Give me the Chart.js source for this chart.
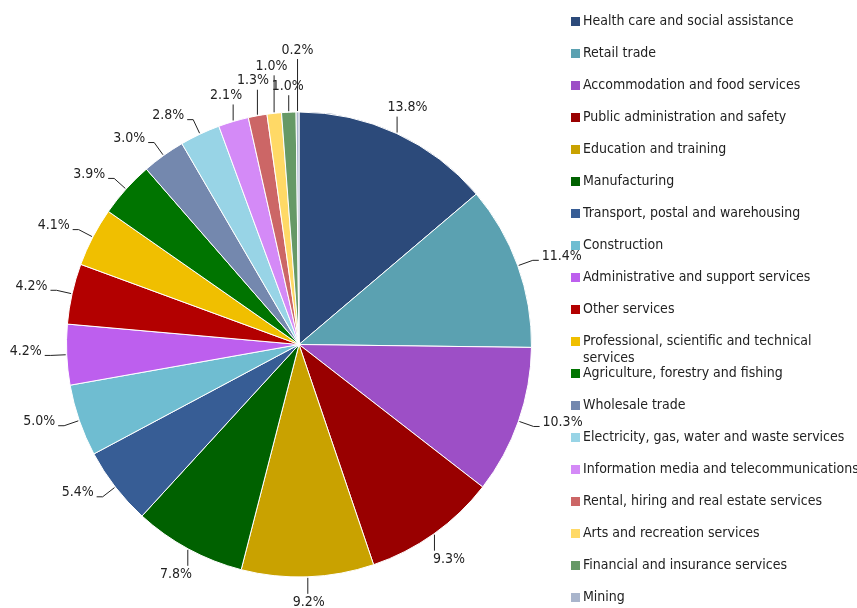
<!DOCTYPE html>
<html>
<head>
<meta charset="utf-8">
<script src="https://cdn.jsdelivr.net/npm/chart.js@4.4.1/dist/chart.umd.min.js"></script>
<style>
  html, body { margin: 0; padding: 0; background: #fff; }
  #chart { display: block; }
</style>
</head>
<body>
<canvas id="chart" width="857" height="608"></canvas>
<script>
const industries = [
  "Health care and social assistance",
  "Retail trade",
  "Accommodation and food services",
  "Public administration and safety",
  "Education and training",
  "Manufacturing",
  "Transport, postal and warehousing",
  "Construction",
  "Administrative and support services",
  "Other services",
  "Professional, scientific and technical services",
  "Agriculture, forestry and fishing",
  "Wholesale trade",
  "Electricity, gas, water and waste services",
  "Information media and telecommunications",
  "Rental, hiring and real estate services",
  "Arts and recreation services",
  "Financial and insurance services",
  "Mining"
];
const shares = [13.8, 11.4, 10.3, 9.3, 9.2, 7.8, 5.4, 5.0, 4.2, 4.2, 4.1, 3.9, 3.0, 2.8, 2.1, 1.3, 1.0, 1.0, 0.2];
const sliceColors = [
  "#2c4a7a", "#5ba1b1", "#9d4fc6", "#990000", "#c9a200", "#006100",
  "#375d95", "#6fbdd1", "#bd5fee", "#b30000", "#f0bf00", "#007400",
  "#7488ae", "#98d4e6", "#d48af7", "#cc6666", "#ffd966", "#669966", "#a9b5cc"
];

const FONT = '"DejaVu Sans Condensed", "DejaVu Sans", sans-serif';
const TEXT_COLOR = "#222";

// percentage labels with leader lines, pushed outward when they collide
const pieLabels = {
  id: "pieLabels",
  afterDatasetsDraw(chart) {
    const ctx = chart.ctx;
    const meta = chart.getDatasetMeta(0);
    ctx.save();
    ctx.font = "14px " + FONT;
    ctx.fillStyle = TEXT_COLOR;
    ctx.strokeStyle = TEXT_COLOR;
    ctx.lineWidth = 1;
    const placed = [];
    const hits = b => placed.some(p => b.x1 < p.x2 && b.x2 > p.x1 && b.y1 < p.y2 && b.y2 > p.y1);

    meta.data.forEach((arc, i) => {
      const { x, y, startAngle, endAngle, outerRadius } =
        arc.getProps(["x", "y", "startAngle", "endAngle", "outerRadius"], true);
      const a = (startAngle + endAngle) / 2;
      const cos = Math.cos(a), sin = Math.sin(a);
      const text = shares[i].toFixed(1) + "%";
      const w = ctx.measureText(text).width, h = 14;
      // top labels go vertical when steep, bottom ones a bit earlier
      const side = Math.abs(cos) >= (sin < 0 ? 0.423 : 0.6);
      const dir = cos >= 0 ? 1 : -1;

      let len = 16, geo;
      for (let k = 0; k < 40; k++) {
        const px = x + (outerRadius + 1) * cos, py = y + (outerRadius + 1) * sin;
        let qx, qy, ex, ey, tx, ty, align, box;
        if (side) {
          qx = x + (outerRadius + len) * cos;
          qy = y + (outerRadius + len) * sin;
          ex = qx + dir * 6;
          ey = qy;
          tx = ex + dir * 3;
          ty = ey - 4;
          align = dir > 0 ? "left" : "right";
          const left = dir > 0 ? tx : tx - w;
          box = { x1: left, x2: left + w, y1: ty - h / 2, y2: ty + h / 2 };
        } else {
          qx = ex = px;
          qy = ey = py + (sin < 0 ? -len : len);
          tx = px + cos * 25;
          ty = sin < 0 ? qy - 2 - h / 2 : qy + 2 + h / 2;
          align = "center";
          box = { x1: tx - w / 2, x2: tx + w / 2, y1: ty - h / 2, y2: ty + h / 2 };
        }
        geo = { px, py, qx, qy, ex, ey, tx, ty, align, box };
        if (!hits(box)) break;
        len += 3;
      }
      placed.push(geo.box);
      ctx.beginPath();
      ctx.moveTo(geo.px, geo.py);
      ctx.lineTo(geo.qx, geo.qy);
      ctx.lineTo(geo.ex, geo.ey);
      ctx.stroke();
      ctx.textAlign = geo.align;
      ctx.textBaseline = "middle";
      ctx.fillText(text, geo.tx, geo.ty);
    });
    ctx.restore();
  }
};

// legend column on the right, one row every 32px
const sideLegend = {
  id: "sideLegend",
  afterDraw(chart) {
    const ctx = chart.ctx;
    const boxX = 571, textX = 583, maxW = 278, top = 21, step = 32;
    ctx.save();
    ctx.font = "14px " + FONT;
    ctx.textAlign = "left";
    ctx.textBaseline = "middle";
    industries.forEach((name, i) => {
      const cy = top + i * step;
      ctx.fillStyle = sliceColors[i];
      ctx.fillRect(boxX, cy - 4, 9, 9);
      ctx.fillStyle = TEXT_COLOR;
      // simple word wrap
      const words = name.split(" ");
      let line = "", lines = [];
      words.forEach(wd => {
        const test = line ? line + " " + wd : wd;
        if (ctx.measureText(test).width > maxW && line) { lines.push(line); line = wd; }
        else line = test;
      });
      lines.push(line);
      lines.forEach((l, j) => ctx.fillText(l, textX, cy + j * 17));
    });
    ctx.restore();
  }
};

new Chart(document.getElementById("chart"), {
  type: "pie",
  data: {
    labels: industries,
    datasets: [{
      data: shares,
      backgroundColor: sliceColors,
      borderColor: "#ffffff",
      borderWidth: 1
    }]
  },
  options: {
    responsive: false,
    animation: false,
    layout: { padding: { left: 66, right: 325, top: 111, bottom: 30 } },
    plugins: {
      legend: { display: false },
      tooltip: { enabled: false }
    }
  },
  plugins: [pieLabels, sideLegend]
});
</script>
</body>
</html>
